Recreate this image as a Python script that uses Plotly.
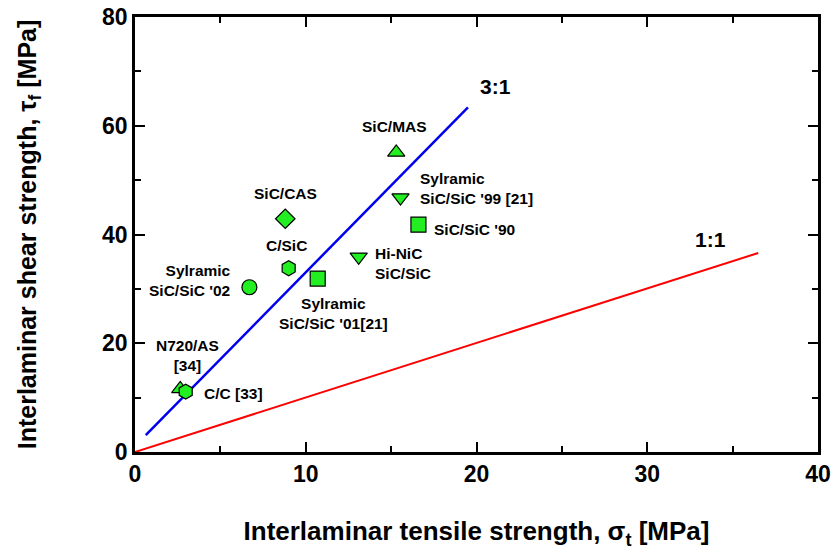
import plotly.graph_objects as go

# ---- data ----
materials = ["SiC/MAS", "Sylramic SiC/SiC '99 [21]", "SiC/SiC '90", "SiC/CAS", "C/SiC",
             "Hi-NiC SiC/SiC", "Sylramic SiC/SiC '01[21]", "Sylramic SiC/SiC '02",
             "N720/AS [34]", "C/C [33]"]
tensile = [15.3, 15.55, 16.6, 8.8, 9.0, 13.1, 10.7, 6.7, 2.65, 2.97]
shear = [55.1, 46.8, 41.8, 42.9, 33.8, 35.9, 31.9, 30.3, 11.6, 11.1]
symbols = ["triangle-up", "triangle-down", "square", "diamond", "hexagon",
           "triangle-down", "square", "circle", "triangle-up", "hexagon"]

line31_x = [0.63, 19.5]
line31_y = [3.1, 63.4]
line11_x = [0.0, 36.5]
line11_y = [0.0, 36.6]

x_ticks = [0, 10, 20, 30, 40]
y_ticks = [0, 20, 40, 60, 80]

# label texts and placement (layout only)
labels = [
    ("SiC/MAS", 15.2, 59.8, "center"),
    ("Sylramic<br>SiC/SiC '99 [21]", 16.55, 48.4, "left"),
    ("SiC/SiC '90", 17.4, 40.9, "left"),
    ("SiC/CAS", 8.8, 47.6, "center"),
    ("C/SiC", 8.9, 38.0, "center"),
    ("Hi-NiC<br>SiC/SiC", 13.95, 34.6, "left"),
    ("Sylramic<br>SiC/SiC '01[21]", 11.6, 25.5, "center"),
    ("Sylramic<br>SiC/SiC '02", 5.75, 31.6, "right"),
    ("N720/AS<br>[34]", 3.05, 17.8, "center"),
    ("C/C [33]", 3.95, 10.8, "left"),
]

FONT = "Liberation Sans, Arial, sans-serif"
green = "#22ee22"

fig = go.Figure()
fig.add_trace(go.Scatter(x=line31_x, y=line31_y, mode="lines",
                         line=dict(color="#0000ee", width=2.5), showlegend=False, hoverinfo="skip"))
fig.add_trace(go.Scatter(x=line11_x, y=line11_y, mode="lines",
                         line=dict(color="#ff0000", width=2), showlegend=False, hoverinfo="skip"))
fig.add_trace(go.Scatter(x=tensile, y=shear, mode="markers", text=materials,
                         marker=dict(symbol=symbols, size=15, color=green,
                                     line=dict(color="black", width=1.2)),
                         showlegend=False))

annotations = []
for txt, x, y, al in labels:
    annotations.append(dict(x=x, y=y, text="<b>%s</b>" % txt, showarrow=False,
                            xanchor=al, yanchor="middle", align=al,
                            font=dict(family=FONT, size=15.5, color="black")))
annotations.append(dict(x=21.1, y=67.2, text="<b>3:1</b>", showarrow=False,
                        font=dict(family=FONT, size=21, color="black")))
annotations.append(dict(x=33.7, y=39.0, text="<b>1:1</b>", showarrow=False,
                        font=dict(family=FONT, size=21, color="black")))

axis_common = dict(showgrid=False, zeroline=False, showline=True, linecolor="black",
                   linewidth=2.5, mirror="ticks", ticks="inside", ticklen=10, tickwidth=2,
                   tickcolor="black", automargin=False,
                   tickfont=dict(family=FONT, size=23, color="black", weight="bold"))

fig.update_layout(
    width=835, height=552,
    margin=dict(l=135, r=17, t=17, b=100),
    paper_bgcolor="white", plot_bgcolor="white",
    annotations=annotations,
    xaxis=dict(range=[0, 40], tickvals=x_ticks, ticktext=[str(v) for v in x_ticks],
               minor=dict(dtick=5, tick0=0, ticks="inside", ticklen=6, tickwidth=1.5, tickcolor="black"),
               title=dict(text="<b>Interlaminar tensile strength, σ<sub>t</sub> [MPa]</b>",
                          font=dict(family=FONT, size=26, color="black"), standoff=36),
               **axis_common),
    yaxis=dict(range=[0, 80], tickvals=y_ticks, ticktext=[str(v) for v in y_ticks],
               minor=dict(dtick=10, tick0=0, ticks="inside", ticklen=6, tickwidth=1.5, tickcolor="black"),
               title=dict(text="<b>Interlaminar shear strength, τ<sub>f</sub> [MPa]</b>",
                          font=dict(family=FONT, size=25, color="black"), standoff=59),
               **axis_common),
)

# remove the browser's default 8px body margin so the figure sits at the page origin
fig.write_html("out.html", config={"displayModeBar": False},
               post_script="document.body.style.margin='0';")
